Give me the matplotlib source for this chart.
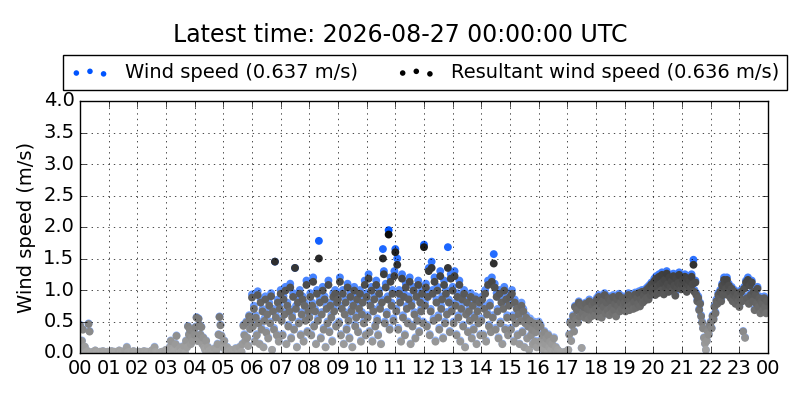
import numpy as np
import matplotlib
matplotlib.use('Agg')
import matplotlib.pyplot as plt

plt.style.use('classic')

# one sample every 2 minutes, 30 per hour
wind_speed = [
    0.45, 0.4, 0.2, 0.38, 0.05, 0.1, 0.0, 0.02, 0.03, 0.47, 0.35, 0.0, 0.01, 0.0, 0.02, 0.0, 0.04, 0.0, 0.0, 0.01, 0.0, 0.02, 0.0, 0.0, 0.03, 0.0, 0.01, 0.0, 0.0, 0.02,  # 00
    0.0, 0.01, 0.0, 0.03, 0.0, 0.0, 0.02, 0.0, 0.0, 0.01, 0.0, 0.04, 0.0, 0.0, 0.02, 0.0, 0.0, 0.03, 0.05, 0.1, 0.01, 0.0, 0.02, 0.0, 0.0, 0.0, 0.03, 0.0, 0.01, 0.0,  # 01
    0.0, 0.0, 0.02, 0.0, 0.01, 0.0, 0.0, 0.03, 0.0, 0.0, 0.02, 0.0, 0.0, 0.01, 0.0, 0.04, 0.0, 0.05, 0.1, 0.02, 0.0, 0.0, 0.0, 0.0, 0.01, 0.0, 0.02, 0.0, 0.0, 0.03,  # 02
    0.05, 0.0, 0.02, 0.0, 0.1, 0.2, 0.0, 0.05, 0.0, 0.02, 0.15, 0.28, 0.0, 0.05, 0.0, 0.1, 0.02, 0.0, 0.05, 0.12, 0.0, 0.2, 0.1, 0.43, 0.3, 0.38, 0.15, 0.25, 0.2, 0.35,  # 03
    0.3, 0.42, 0.57, 0.2, 0.55, 0.45, 0.3, 0.42, 0.15, 0.25, 0.1, 0.05, 0.2, 0.0, 0.1, 0.03, 0.0, 0.05, 0.0, 0.02, 0.0, 0.08, 0.0, 0.05, 0.15, 0.3, 0.58, 0.45, 0.28, 0.15,  # 04
    0.1, 0.2, 0.05, 0.0, 0.1, 0.0, 0.03, 0.0, 0.05, 0.0, 0.0, 0.02, 0.0, 0.08, 0.0, 0.05, 0.0, 0.1, 0.0, 0.02, 0.15, 0.45, 0.3, 0.2, 0.5, 0.25, 0.12, 0.6, 0.4, 0.55,  # 05
    0.93, 0.45, 0.75, 0.2, 0.6, 0.3, 0.98, 0.5, 0.15, 0.85, 0.4, 0.7, 0.1, 0.55, 0.9, 0.35, 0.65, 0.25, 0.8, 0.5, 0.95, 0.05, 0.7, 0.4, 1.45, 0.6, 0.3, 0.85, 0.2, 0.75,  # 06
    1.0, 0.55, 0.3, 0.9, 0.65, 1.05, 0.15, 0.8, 0.45, 0.7, 1.1, 0.25, 0.6, 0.95, 0.4, 1.35, 0.75, 0.1, 0.85, 0.5, 1.0, 0.3, 0.65, 0.9, 0.2, 0.8, 0.55, 1.15, 0.35, 0.7,  # 07
    0.6, 0.95, 0.3, 0.8, 1.2, 0.45, 0.7, 0.15, 1.0, 0.55, 1.78, 0.85, 0.25, 0.65, 1.05, 0.4, 0.9, 0.1, 0.75, 0.5, 1.15, 0.35, 0.8, 0.6, 0.2, 0.95, 0.7, 1.0, 0.45, 0.85,  # 08
    0.9, 0.5, 1.2, 0.3, 0.75, 1.0, 0.15, 0.65, 0.85, 0.4, 1.1, 0.55, 0.25, 0.95, 0.7, 0.1, 0.8, 1.05, 0.45, 0.6, 0.9, 0.35, 0.75, 1.0, 0.2, 0.65, 0.85, 0.5, 1.15, 0.3,  # 09
    0.95, 0.6, 1.25, 0.35, 0.8, 1.05, 0.2, 0.7, 0.9, 0.45, 1.15, 0.55, 0.3, 1.0, 0.75, 0.15, 0.85, 1.65, 1.3, 0.5, 1.1, 0.65, 0.9, 1.95, 0.4, 1.2, 0.8, 1.0, 0.55, 1.3,  # 10
    1.65, 0.7, 1.5, 0.4, 1.0, 0.85, 0.2, 1.25, 0.6, 0.95, 0.3, 1.1, 0.75, 0.5, 0.9, 1.2, 0.15, 0.8, 0.45, 1.05, 0.65, 0.25, 0.95, 0.55, 1.15, 0.35, 0.85, 0.7, 1.0, 0.5,  # 11
    1.72, 0.8, 1.1, 0.45, 0.95, 1.35, 0.3, 0.7, 1.45, 1.0, 0.55, 1.2, 0.2, 0.85, 1.05, 0.6, 0.4, 1.3, 0.75, 0.9, 0.25, 1.15, 0.5, 1.0, 0.65, 1.68, 0.85, 0.35, 1.25, 0.7,  # 12
    1.05, 0.5, 1.3, 0.8, 0.3, 0.95, 0.6, 1.15, 0.2, 0.75, 0.9, 0.45, 1.0, 0.1, 0.65, 0.85, 0.35, 0.7, 0.55, 0.95, 0.25, 0.8, 0.4, 0.6, 0.9, 0.15, 0.7, 0.5, 0.85, 0.3,  # 13
    0.55, 0.9, 0.3, 0.75, 1.0, 0.2, 0.65, 1.15, 0.45, 0.8, 0.35, 1.2, 0.6, 1.57, 1.1, 0.4, 0.95, 0.7, 0.25, 1.0, 0.5, 0.85, 0.15, 0.75, 1.05, 0.4, 0.9, 0.6, 0.3, 0.8,  # 14
    0.95, 0.4, 1.0, 0.6, 0.2, 0.85, 0.5, 0.75, 0.3, 0.65, 0.15, 0.55, 0.8, 0.35, 0.7, 0.1, 0.5, 0.6, 0.25, 0.45, 0.05, 0.55, 0.3, 0.4, 0.15, 0.5, 0.2, 0.35, 0.1, 0.45,  # 15
    0.5, 0.2, 0.45, 0.1, 0.3, 0.05, 0.35, 0.15, 0.25, 0.0, 0.3, 0.1, 0.2, 0.05, 0.15, 0.0, 0.25, 0.05, 0.1, 0.0, 0.05, 0.0, 0.02, 0.0, 0.0, 0.01, 0.0, 0.0, 0.02, 0.0,  # 16
    0.0, 0.05, 0.3, 0.5, 0.2, 0.45, 0.6, 0.35, 0.75, 0.55, 0.7, 0.5, 0.82, 0.6, 0.78, 0.08, 0.65, 0.75, 0.58, 0.8, 0.62, 0.72, 0.55, 0.85, 0.7, 0.6, 0.78, 0.68, 0.82, 0.62,  # 17
    0.72, 0.88, 0.6, 0.92, 0.68, 0.8, 0.58, 0.85, 0.75, 0.95, 0.65, 0.82, 0.7, 0.9, 0.62, 0.86, 0.74, 0.66, 0.92, 0.7, 0.8, 0.6, 0.88, 0.76, 0.94, 0.68, 0.82, 0.72, 0.9, 0.78,  # 18
    0.82, 0.68, 0.9, 0.75, 0.95, 0.7, 0.86, 0.78, 0.92, 0.72, 0.84, 0.96, 0.74, 0.9, 0.8, 0.98, 0.76, 0.88, 1.0, 0.82, 0.94, 0.86, 1.02, 0.9, 1.05, 0.88, 1.08, 0.95, 1.12, 1.0,  # 19
    1.05, 1.18, 0.95, 1.22, 1.08, 0.98, 1.25, 1.12, 1.02, 1.28, 1.15, 0.96, 1.2, 1.06, 1.3, 1.12, 1.0, 1.24, 1.08, 1.18, 1.02, 1.26, 1.1, 0.94, 1.22, 1.06, 1.14, 1.28, 1.1, 1.04,  # 20
    1.12, 1.2, 1.05, 1.25, 1.15, 1.0, 1.22, 1.1, 1.18, 1.05, 1.25, 1.12, 1.48, 1.0, 1.15, 0.95, 0.85, 0.9, 0.7, 0.8, 0.6, 0.5, 0.4, 0.25, 0.15, 0.05, 0.2, 0.35, 0.3, 0.45,  # 21
    0.5, 0.4, 0.6, 0.55, 0.75, 0.65, 0.85, 0.8, 0.95, 0.9, 1.0, 0.85, 1.1, 0.95, 1.2, 1.15, 1.05, 1.2, 0.95, 1.1, 1.0, 0.9, 1.05, 0.85, 0.95, 1.0, 0.8, 0.9, 0.95, 0.85,  # 22
    0.75, 0.9, 1.0, 0.85, 0.35, 1.05, 0.25, 1.15, 0.9, 1.2, 0.8, 1.1, 0.95, 1.15, 0.85, 1.0, 0.7, 0.95, 0.8, 1.05, 0.75, 0.9, 0.65, 0.85, 0.8, 0.7, 0.9, 0.75, 0.65, 0.85,  # 23
]

resultant_speed = [
    0.44, 0.39, 0.19, 0.37, 0.05, 0.1, 0.0, 0.02, 0.03, 0.46, 0.34, 0.0, 0.01, 0.0, 0.02, 0.0, 0.04, 0.0, 0.0, 0.01, 0.0, 0.02, 0.0, 0.0, 0.03, 0.0, 0.01, 0.0, 0.0, 0.02,  # 00
    0.0, 0.01, 0.0, 0.03, 0.0, 0.0, 0.02, 0.0, 0.0, 0.01, 0.0, 0.04, 0.0, 0.0, 0.02, 0.0, 0.0, 0.03, 0.05, 0.09, 0.01, 0.0, 0.02, 0.0, 0.0, 0.0, 0.03, 0.0, 0.01, 0.0,  # 01
    0.0, 0.0, 0.02, 0.0, 0.01, 0.0, 0.0, 0.03, 0.0, 0.0, 0.02, 0.0, 0.0, 0.01, 0.0, 0.04, 0.0, 0.05, 0.09, 0.02, 0.0, 0.0, 0.0, 0.0, 0.01, 0.0, 0.02, 0.0, 0.0, 0.03,  # 02
    0.05, 0.0, 0.02, 0.0, 0.09, 0.19, 0.0, 0.05, 0.0, 0.02, 0.14, 0.27, 0.0, 0.05, 0.0, 0.09, 0.02, 0.0, 0.05, 0.11, 0.0, 0.19, 0.09, 0.42, 0.29, 0.37, 0.14, 0.24, 0.19, 0.34,  # 03
    0.29, 0.41, 0.56, 0.19, 0.54, 0.44, 0.29, 0.41, 0.14, 0.24, 0.09, 0.05, 0.19, 0.0, 0.09, 0.03, 0.0, 0.05, 0.0, 0.02, 0.0, 0.07, 0.0, 0.05, 0.14, 0.29, 0.57, 0.44, 0.27, 0.14,  # 04
    0.09, 0.19, 0.05, 0.0, 0.09, 0.0, 0.03, 0.0, 0.05, 0.0, 0.0, 0.02, 0.0, 0.07, 0.0, 0.05, 0.0, 0.09, 0.0, 0.02, 0.14, 0.43, 0.28, 0.19, 0.48, 0.24, 0.11, 0.58, 0.38, 0.53,  # 05
    0.88, 0.42, 0.7, 0.18, 0.56, 0.28, 0.92, 0.47, 0.14, 0.8, 0.37, 0.66, 0.09, 0.51, 0.85, 0.32, 0.61, 0.23, 0.75, 0.47, 0.9, 0.05, 0.66, 0.37, 1.45, 0.56, 0.28, 0.8, 0.18, 0.7,  # 06
    0.94, 0.51, 0.28, 0.85, 0.61, 0.99, 0.14, 0.75, 0.42, 0.66, 1.04, 0.23, 0.56, 0.89, 0.37, 1.35, 0.7, 0.09, 0.8, 0.47, 0.94, 0.28, 0.61, 0.85, 0.18, 0.75, 0.51, 1.08, 0.33, 0.66,  # 07
    0.56, 0.89, 0.28, 0.75, 1.13, 0.42, 0.66, 0.14, 0.94, 0.51, 1.5, 0.8, 0.23, 0.61, 0.99, 0.37, 0.85, 0.09, 0.7, 0.47, 1.08, 0.33, 0.75, 0.56, 0.18, 0.89, 0.66, 0.94, 0.42, 0.8,  # 08
    0.85, 0.47, 1.13, 0.28, 0.7, 0.94, 0.14, 0.61, 0.8, 0.37, 1.04, 0.51, 0.23, 0.89, 0.66, 0.09, 0.75, 0.99, 0.42, 0.56, 0.85, 0.33, 0.7, 0.94, 0.18, 0.61, 0.8, 0.47, 1.08, 0.28,  # 09
    0.89, 0.56, 1.18, 0.33, 0.75, 0.99, 0.18, 0.66, 0.85, 0.42, 1.08, 0.51, 0.28, 0.94, 0.7, 0.14, 0.8, 1.5, 1.25, 0.47, 1.04, 0.61, 0.85, 1.88, 0.37, 1.13, 0.75, 0.94, 0.51, 1.22,  # 10
    1.6, 0.66, 1.4, 0.37, 0.94, 0.8, 0.18, 1.18, 0.56, 0.89, 0.28, 1.04, 0.7, 0.47, 0.85, 1.13, 0.14, 0.75, 0.42, 0.99, 0.61, 0.23, 0.89, 0.51, 1.08, 0.33, 0.8, 0.66, 0.94, 0.47,  # 11
    1.68, 0.75, 1.04, 0.42, 0.89, 1.3, 0.28, 0.66, 1.35, 0.94, 0.51, 1.13, 0.18, 0.8, 0.99, 0.56, 0.37, 1.22, 0.7, 0.85, 0.23, 1.08, 0.47, 0.94, 0.61, 1.35, 0.8, 0.33, 1.18, 0.66,  # 12
    0.99, 0.47, 1.22, 0.75, 0.28, 0.89, 0.56, 1.08, 0.18, 0.7, 0.85, 0.42, 0.94, 0.09, 0.61, 0.8, 0.33, 0.66, 0.51, 0.89, 0.23, 0.75, 0.37, 0.56, 0.85, 0.14, 0.66, 0.47, 0.8, 0.28,  # 13
    0.51, 0.85, 0.28, 0.7, 0.94, 0.18, 0.61, 1.08, 0.42, 0.75, 0.33, 1.13, 0.56, 1.42, 1.04, 0.37, 0.89, 0.66, 0.23, 0.94, 0.47, 0.8, 0.14, 0.7, 0.99, 0.37, 0.85, 0.56, 0.28, 0.75,  # 14
    0.89, 0.37, 0.94, 0.56, 0.18, 0.8, 0.47, 0.7, 0.28, 0.61, 0.14, 0.51, 0.75, 0.33, 0.66, 0.09, 0.47, 0.56, 0.23, 0.42, 0.05, 0.51, 0.28, 0.37, 0.14, 0.47, 0.18, 0.33, 0.09, 0.42,  # 15
    0.47, 0.18, 0.42, 0.09, 0.28, 0.05, 0.33, 0.14, 0.23, 0.0, 0.28, 0.09, 0.18, 0.05, 0.14, 0.0, 0.23, 0.05, 0.09, 0.0, 0.05, 0.0, 0.02, 0.0, 0.0, 0.01, 0.0, 0.0, 0.02, 0.0,  # 16
    0.0, 0.05, 0.29, 0.48, 0.19, 0.44, 0.58, 0.34, 0.73, 0.53, 0.68, 0.48, 0.8, 0.58, 0.76, 0.08, 0.63, 0.73, 0.56, 0.78, 0.6, 0.7, 0.53, 0.82, 0.68, 0.58, 0.76, 0.66, 0.8, 0.6,  # 17
    0.7, 0.85, 0.58, 0.89, 0.66, 0.78, 0.56, 0.82, 0.73, 0.92, 0.63, 0.8, 0.68, 0.87, 0.6, 0.83, 0.72, 0.64, 0.89, 0.68, 0.78, 0.58, 0.85, 0.74, 0.91, 0.66, 0.8, 0.7, 0.87, 0.76,  # 18
    0.8, 0.66, 0.87, 0.73, 0.92, 0.68, 0.83, 0.76, 0.89, 0.7, 0.81, 0.93, 0.72, 0.87, 0.78, 0.95, 0.74, 0.85, 0.97, 0.8, 0.91, 0.83, 0.99, 0.87, 1.02, 0.85, 1.05, 0.92, 1.09, 0.97,  # 19
    1.02, 1.14, 0.92, 1.18, 1.05, 0.95, 1.21, 1.09, 0.99, 1.24, 1.12, 0.93, 1.16, 1.03, 1.26, 1.09, 0.97, 1.2, 1.05, 1.14, 0.99, 1.22, 1.07, 0.91, 1.18, 1.03, 1.11, 1.24, 1.07, 1.01,  # 20
    1.09, 1.16, 1.02, 1.21, 1.12, 0.97, 1.18, 1.07, 1.14, 1.02, 1.21, 1.09, 1.4, 0.97, 1.12, 0.92, 0.82, 0.87, 0.68, 0.78, 0.58, 0.48, 0.39, 0.24, 0.15, 0.05, 0.19, 0.34, 0.29, 0.44,  # 21
    0.48, 0.39, 0.58, 0.53, 0.73, 0.63, 0.82, 0.78, 0.92, 0.87, 0.97, 0.82, 1.07, 0.92, 1.16, 1.12, 1.02, 1.16, 0.92, 1.07, 0.97, 0.87, 1.02, 0.82, 0.92, 0.97, 0.78, 0.87, 0.92, 0.82,  # 22
    0.73, 0.87, 0.97, 0.82, 0.34, 1.02, 0.24, 1.12, 0.87, 1.16, 0.78, 1.07, 0.92, 1.12, 0.82, 0.97, 0.68, 0.92, 0.78, 1.02, 0.73, 0.87, 0.63, 0.82, 0.78, 0.68, 0.87, 0.73, 0.63, 0.82,  # 23
]

ws_label_value = 0.637
rs_label_value = 0.636
title_time = '2026-08-27 00:00:00 UTC'
hour_labels = ['%02d' % h for h in range(24)] + ['00']

ws = np.array(wind_speed)
rs = np.array(resultant_speed)
hours = np.arange(len(ws)) * 2.0 / 60.0

BLUE = np.array([0.0, 0.33, 1.0])
BLACK = np.array([0.0, 0.0, 0.0])


def shade(rgb, vals):
    # opaque colours, faded towards white for low speeds
    a = np.clip(0.35 + 0.65 * vals / 2.0, 0, 1)[:, None]
    return 1.0 - a * (1.0 - rgb[None, :])


fig = plt.figure(figsize=(8, 4), dpi=100, facecolor='white')
ax = fig.add_axes([0.1, 0.1175, 0.86, 0.63])

ax.scatter(hours, ws, s=32, c=shade(BLUE, ws), edgecolors='none')
ax.scatter(hours, rs, s=32, c=shade(BLACK, rs), edgecolors='none')

# proxies for legend (no visible points)
nan3 = [np.nan] * 3
h1 = ax.scatter(nan3, nan3, s=16, c=[BLUE], edgecolors='none')
h2 = ax.scatter(nan3, nan3, s=16, c=[BLACK], edgecolors='none')
ax.legend([h1, h2],
          ['Wind speed (%.3f m/s)' % ws_label_value,
           'Resultant wind speed (%.3f m/s)' % rs_label_value],
          loc='lower center', bbox_to_anchor=(0.5015, 1.044),
          ncol=2, scatterpoints=3, fontsize=14, borderaxespad=0)

ax.set_xlim(0, 24)
ax.set_ylim(0, 4)
ax.set_xticks(np.arange(25))
ax.set_xticklabels(hour_labels)
ax.set_yticks(np.arange(0, 4.01, 0.5))
ax.tick_params(labelsize=14)
ax.set_ylabel('Wind speed (m/s)', fontsize=14)
ax.grid(True, color='k', ls=':')

fig.text(0.5, 0.912, 'Latest time: ' + title_time, ha='center', va='center', fontsize=17)

fig.savefig('out.png', dpi=100, facecolor='white')
